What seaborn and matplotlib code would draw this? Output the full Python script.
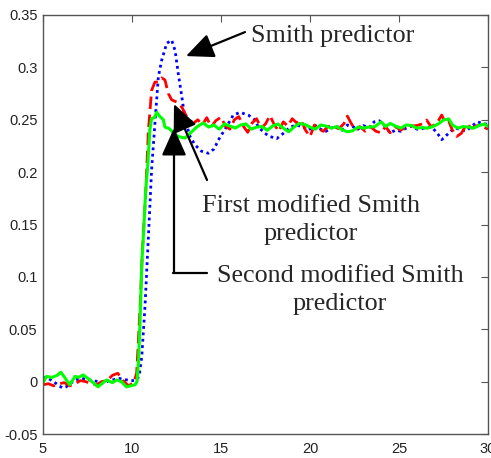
import numpy as np
import pandas as pd
import matplotlib
matplotlib.use("Agg")
import matplotlib.pyplot as plt
import seaborn as sns

# ---------------- data ----------------
t_smith = [5.0, 5.3, 5.6, 5.9, 6.1, 6.3, 6.6, 6.9, 7.2, 7.5, 7.8, 8.1, 8.4, 8.7, 9.0, 9.3,
           9.6, 9.9, 10.2, 10.4, 10.55, 10.73, 10.92, 11.1, 11.29, 11.48, 11.67, 11.95,
           12.23, 12.42, 12.6, 12.8, 12.98, 13.26, 13.54, 13.9, 14.29, 14.6, 14.9, 15.3,
           15.69, 16.07, 16.53, 16.9, 17.1, 17.47, 17.75, 18.13, 18.5, 18.88, 19.25,
           19.6, 19.9, 20.3, 20.6, 20.9, 21.2, 21.5, 21.8, 22.1, 22.4, 22.7, 23.0, 23.3,
           23.6, 23.9, 24.2, 24.5, 24.8, 25.1, 25.4, 25.7, 26.0, 26.3, 26.6, 26.9, 27.2,
           27.4, 27.6, 27.9, 28.2, 28.5, 28.8, 29.1, 29.4, 29.7, 30.0]
y_smith = [0.004, 0.003, 0.0, -0.004, -0.006, -0.005, -0.001, 0.002, 0.003, 0.002, 0.001,
           0.0, -0.002, 0.001, 0.002, 0.003, 0.002, 0.001, 0.001, 0.005, 0.024, 0.072,
           0.138, 0.202, 0.247, 0.291, 0.307, 0.323, 0.326, 0.316, 0.294, 0.272, 0.250,
           0.234, 0.226, 0.220, 0.218, 0.222, 0.232, 0.243, 0.2545, 0.257, 0.2545, 0.250,
           0.243, 0.237, 0.234, 0.232, 0.237, 0.243, 0.245,
           0.243, 0.240, 0.2445, 0.241, 0.239, 0.242, 0.244, 0.240, 0.245, 0.2435, 0.241,
           0.2445, 0.242, 0.248, 0.249, 0.244, 0.2375, 0.240, 0.239, 0.242, 0.244, 0.241,
           0.2415, 0.243, 0.242, 0.236, 0.231, 0.234, 0.239, 0.242, 0.240, 0.2395, 0.244,
           0.248, 0.2465, 0.2455]

t_first = [5.0, 5.3, 5.6, 5.9, 6.2, 6.5, 6.8, 7.1, 7.4, 7.7, 8.0, 8.3, 8.6, 8.9, 9.2, 9.5,
           9.8, 10.1, 10.26, 10.34, 10.45, 10.6, 10.77, 10.92, 11.0, 11.1, 11.29, 11.48,
           11.67, 11.85, 12.04, 12.23, 12.5, 12.8, 13.07, 13.44, 13.7, 13.95, 14.2, 14.45,
           14.7, 15.0, 15.25, 15.5, 15.75, 16.0, 16.25, 16.5, 16.75, 17.0, 17.25, 17.5,
           17.75, 18.0, 18.25, 18.5, 18.75, 19.0, 19.25, 19.5, 19.75, 20.0, 20.25, 20.5,
           20.75, 21.0, 21.3, 21.6, 21.9, 22.1, 22.3, 22.55, 22.8, 23.1, 23.4, 23.7, 24.0,
           24.25, 24.5, 24.8, 25.1, 25.4, 25.7, 26.0, 26.3, 26.55, 26.8, 27.1, 27.4, 27.6,
           27.8, 28.0, 28.24, 28.5, 28.8, 29.1, 29.4, 29.7, 30.0]
y_first = [-0.003, -0.002, -0.004, -0.002, -0.001, -0.004, -0.002, 0.001, 0.0, -0.002,
           -0.003, 0.0, 0.001, 0.006, 0.008, 0.001, -0.004, -0.001, 0.008, 0.033, 0.07,
           0.13, 0.18, 0.24, 0.256, 0.278, 0.286, 0.286, 0.290, 0.288, 0.275, 0.269, 0.267,
           0.262, 0.253, 0.2465, 0.250, 0.245, 0.252, 0.243, 0.249, 0.2525, 0.244, 0.241,
           0.250, 0.253, 0.244, 0.238, 0.247, 0.251, 0.242, 0.246, 0.254, 0.245, 0.239,
           0.248, 0.244, 0.251, 0.247, 0.2495, 0.240, 0.234, 0.245, 0.241, 0.239, 0.2435,
           0.244, 0.2415, 0.246, 0.2535, 0.247, 0.240, 0.2435, 0.239, 0.2435, 0.239, 0.2375,
           0.2435, 0.2375, 0.2435, 0.240, 0.2435, 0.244, 0.2445, 0.246, 0.2497, 0.2435,
           0.246, 0.2545, 0.247, 0.2485, 0.240, 0.234, 0.237, 0.2455, 0.242, 0.2445,
           0.2435, 0.241]

t_second = [5.0, 5.2, 5.5, 5.8, 6.0, 6.24, 6.5, 6.8, 7.0, 7.25, 7.64, 8.09, 8.3, 8.58,
            8.9, 9.14, 9.4, 9.7, 10.17, 10.28, 10.36, 10.45, 10.55, 10.66, 10.77, 10.88,
            11.0, 11.1, 11.25, 11.39, 11.57, 11.76, 11.85, 12.1, 12.35, 12.6, 12.98, 13.26,
            13.63, 14.0, 14.3, 14.6, 14.9, 15.2, 15.5, 15.8, 16.1, 16.4, 16.7, 17.0, 17.3,
            17.6, 17.9, 18.2, 18.5, 18.8, 19.1, 19.4, 19.7, 20.0, 20.3, 20.6, 20.9, 21.2,
            21.5, 21.8, 22.1, 22.4, 22.7, 23.0, 23.3, 23.65, 24.0, 24.25, 24.5, 24.8, 25.1,
            25.4, 25.7, 26.0, 26.3, 26.6, 26.9, 27.2, 27.5, 27.8, 28.0, 28.3, 28.6, 28.9,
            29.2, 29.5, 29.8, 30.0]
y_second = [-0.001, 0.005, 0.004, 0.006, 0.009, 0.0035, -0.003, 0.005, 0.004, 0.0064,
            0.0016, -0.005, -0.002, 0.0016, -0.001, 0.0016, 0.0, -0.005, -0.003, 0.0,
            0.018, 0.056, 0.113, 0.145, 0.183, 0.205, 0.240, 0.251, 0.252, 0.257, 0.253,
            0.250, 0.243, 0.2415, 0.237, 0.234, 0.2325, 0.237, 0.243, 0.247, 0.243, 0.245,
            0.241, 0.246, 0.244, 0.242, 0.245, 0.246, 0.241, 0.243, 0.2435, 0.240, 0.244,
            0.246, 0.242, 0.2385, 0.243, 0.2465, 0.2455, 0.243, 0.241, 0.245, 0.244, 0.242,
            0.2435, 0.2405, 0.2385, 0.2395, 0.243, 0.242, 0.243, 0.2435, 0.248, 0.2435,
            0.2465, 0.244, 0.242, 0.245, 0.2445, 0.242, 0.2425, 0.242, 0.2435, 0.246,
            0.2497, 0.2508, 0.245, 0.242, 0.2435, 0.243, 0.242, 0.2445, 0.246, 0.2435]

x_ticks = [5, 10, 15, 20, 25, 30]
y_ticks = [-0.05, 0, 0.05, 0.1, 0.15, 0.2, 0.25, 0.3, 0.35]
y_tick_labels = ["-0.05", "0", "0.05", "0.1", "0.15", "0.2", "0.25", "0.3", "0.35"]

labels = ["Smith predictor", "First modified Smith\npredictor",
          "Second modified Smith\npredictor"]

# ---------------- figure ----------------
sns.set_style("white")
plt.rcParams["font.family"] = ["Liberation Sans", "DejaVu Sans"]

fig = plt.figure(figsize=(4.91, 4.58), dpi=100)
ax = fig.add_axes([43 / 491, 24 / 458, 445 / 491, 419 / 458])

df_s = pd.DataFrame({"t": t_smith, "y": y_smith})
df_f = pd.DataFrame({"t": t_first, "y": y_first})
df_g = pd.DataFrame({"t": t_second, "y": y_second})

sns.lineplot(data=df_s, x="t", y="y", ax=ax, color=(0, 0, 1), lw=2.0,
             linestyle=(0, (1, 1.3)), estimator=None, sort=False)
sns.lineplot(data=df_f, x="t", y="y", ax=ax, color=(1, 0, 0), lw=2.0,
             linestyle=(0, (4.5, 2)), estimator=None, sort=False)
sns.lineplot(data=df_g, x="t", y="y", ax=ax, color=(0, 1, 0), lw=2.2,
             linestyle="-", estimator=None, sort=False)

ax.set_xlim(5, 30)
ax.set_ylim(-0.05, 0.35)
ax.set_xticks(x_ticks)
ax.set_xticklabels([str(v) for v in x_ticks])
ax.set_yticks(y_ticks)
ax.set_yticklabels(y_tick_labels)
ax.set_xlabel("")
ax.set_ylabel("")

frame_col = "#555555"
for sp in ax.spines.values():
    sp.set_color(frame_col)
    sp.set_linewidth(1.0)
ax.tick_params(axis="both", which="major", direction="in", length=5, width=0.8,
               color=frame_col, top=True, right=True, labelsize=10.5,
               labelcolor="#222222", pad=4)
ax.tick_params(axis="x", pad=6)

# ---------------- annotations ----------------
serif = ["Liberation Serif", "DejaVu Serif"]
fs = 18.8

def pxy(px, py):
    return 5 + (px - 43) / 17.8, (381.7 - py) / 1048.0

arrow_kw = dict(arrowstyle="-|>,head_length=0.85,head_width=0.38", color="black",
                lw=1.6, shrinkA=0, shrinkB=0, mutation_scale=20)

# Smith predictor
ax.annotate("", xy=pxy(186, 56), xytext=pxy(245, 32), arrowprops=arrow_kw)
ax.text(*pxy(251, 36), labels[0], family=serif, fontsize=fs, ha="left", va="center")

# First modified
ax.annotate("", xy=pxy(174, 104), xytext=pxy(207, 180), arrowprops=arrow_kw)
ax.text(*pxy(311, 220), labels[1], family=serif, fontsize=fs, ha="center",
        va="center", linespacing=1.32)

# Second modified (elbow)
ax.annotate("", xy=pxy(174, 128), xytext=pxy(174, 273), arrowprops=arrow_kw)
e0 = pxy(173, 273)
e1 = pxy(207, 273)
ax.plot([e0[0], e1[0]], [e0[1], e1[1]], color="black", lw=1.6)
ax.text(*pxy(340, 290), labels[2], family=serif, fontsize=fs, ha="center",
        va="center", linespacing=1.32)

fig.savefig("out.png", dpi=100)
